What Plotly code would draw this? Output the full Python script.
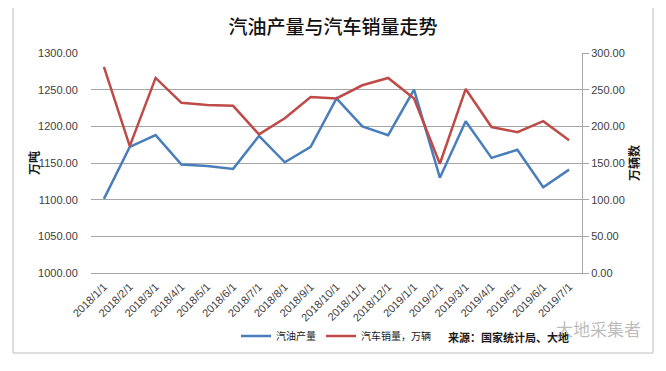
import plotly.graph_objects as go

dates = ["2018/1/1", "2018/2/1", "2018/3/1", "2018/4/1", "2018/5/1", "2018/6/1",
         "2018/7/1", "2018/8/1", "2018/9/1", "2018/10/1", "2018/11/1", "2018/12/1",
         "2019/1/1", "2019/2/1", "2019/3/1", "2019/4/1", "2019/5/1", "2019/6/1", "2019/7/1"]
gasoline = [1101, 1172, 1188, 1148, 1146, 1142, 1187, 1151, 1172, 1238, 1200, 1188,
            1250, 1130, 1207, 1157, 1168, 1117, 1141]
car_sales = [281, 173, 266, 232, 229, 228, 189, 211, 240, 238, 256, 266,
             238, 149, 251, 199, 192, 207, 181]

left_ticks = [1000, 1050, 1100, 1150, 1200, 1250, 1300]
right_ticks = [0, 50, 100, 150, 200, 250, 300]

BLUE = "#4A7EBB"
RED = "#BE4B48"
CJK = "Noto Sans CJK SC, sans-serif"
TICKFONT = dict(family="Liberation Sans, Arial, sans-serif", size=11, color="#404040")

# page has an 8px body margin; figure coords = page coords - 8
W, H = 658, 363
PL, PR, PT, PB = 83, 574, 45, 265
pw, ph = PR - PL, PB - PT


def px(xp):
    return (xp - 8 - PL) / pw


def py(yp):
    return (PB - (yp - 8)) / ph


fig = go.Figure()
fig.add_trace(go.Scatter(x=dates, y=gasoline, mode="lines", name="汽油产量",
                         line=dict(color=BLUE, width=2.5), yaxis="y"))
fig.add_trace(go.Scatter(x=dates, y=car_sales, mode="lines", name="汽车销量，万辆",
                         line=dict(color=RED, width=2.5), yaxis="y2"))

fig.update_layout(
    width=W, height=H,
    margin=dict(l=PL, r=W - PR, t=PT, b=H - PB),
    paper_bgcolor="white", plot_bgcolor="white",
    font=dict(family=CJK, color="#404040"),
    title=dict(text="汽油产量与汽车销量走势", x=(333 - 8) / W, xanchor="center",
               y=1 - (27 - 8) / H, yanchor="middle",
               font=dict(family=CJK, size=19, color="#111111", weight=500)),
    xaxis=dict(type="category", range=[-0.5, 18.5], tickangle=-45,
               tickfont=dict(family="Liberation Sans, Arial, sans-serif", size=11, color="#404040"),
               showgrid=False, showline=True, linecolor="#A6A6A6", linewidth=1,
               ticks="outside", ticklen=2, tickcolor="rgba(0,0,0,0)", fixedrange=True),
    yaxis=dict(range=[1000, 1300], tickvals=left_ticks, tickformat=".2f",
               tickfont=TICKFONT, showgrid=True, gridcolor="#A6A6A6", gridwidth=1,
               zeroline=False, showline=False,
               ticks="outside", ticklen=10, tickcolor="rgba(0,0,0,0)"),
    yaxis2=dict(range=[0, 300], tickvals=right_ticks, tickformat=".2f",
                tickfont=TICKFONT, overlaying="y", side="right", showgrid=False,
                zeroline=False, showline=True, linecolor="#A6A6A6", linewidth=1,
                ticks="outside", ticklen=6, tickcolor="#A6A6A6",
                title=dict(text="<b>万辆数</b>", font=dict(family=CJK, size=12, color="#1a1a1a"), standoff=4)),
    legend=dict(orientation="h", x=px(236), xanchor="left",
                y=py(336), yanchor="middle",
                font=dict(family=CJK, size=10, color="#1a1a1a"),
                itemwidth=30, bgcolor="rgba(0,0,0,0)"),
    showlegend=True,
)

fig.add_annotation(text="<b>万吨</b>", xref="paper", yref="paper",
                   x=px(33), y=py(163), xanchor="center", yanchor="middle", textangle=-90,
                   showarrow=False, font=dict(family=CJK, size=12, color="#1a1a1a"))
fig.add_annotation(text="<b>来源：国家统计局、大地</b>", xref="paper", yref="paper",
                   x=px(446), y=py(337), xanchor="left", yanchor="middle",
                   showarrow=False, font=dict(family=CJK, size=11, color="#1a1a1a"))
fig.add_annotation(text="大地采集者", xref="paper", yref="paper",
                   x=px(598), y=py(329), xanchor="center", yanchor="middle",
                   showarrow=False, font=dict(family=CJK, size=17, color="rgba(120,120,120,0.5)"))

# outer chart border
fig.add_shape(type="rect", xref="paper", yref="paper",
              x0=px(13), x1=px(653), y0=py(353), y1=py(7),
              line=dict(color="#BFBFBF", width=1), fillcolor="rgba(0,0,0,0)", layer="below")

fig.write_html("out.html")
